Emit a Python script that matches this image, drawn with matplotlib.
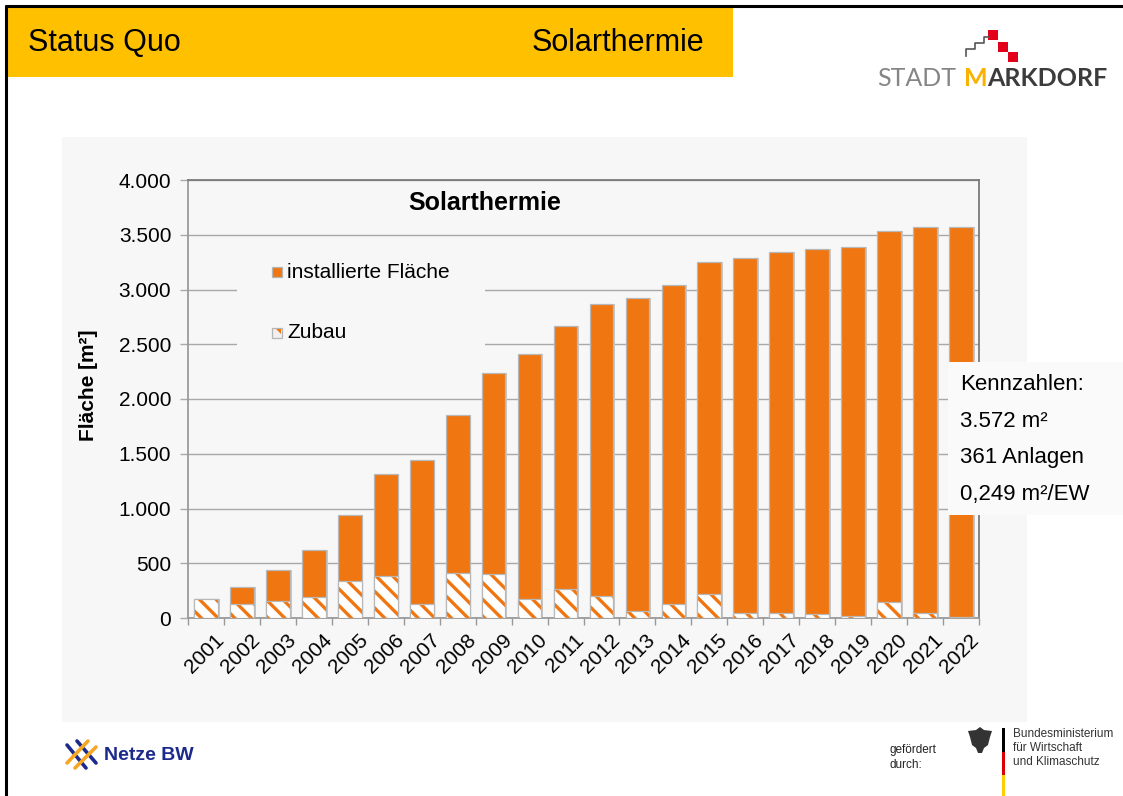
import matplotlib
matplotlib.use('Agg')
import matplotlib.pyplot as plt
import matplotlib.patches as mpatches
import matplotlib.transforms as mtransforms
from matplotlib.ticker import FuncFormatter, FixedLocator
import numpy as np

# ---------------- data ----------------
years = [str(y) for y in range(2001, 2023)]
installiert = [170, 285, 435, 620, 945, 1315, 1440, 1850, 2240, 2410, 2670,
               2870, 2920, 3040, 3255, 3290, 3340, 3370, 3390, 3530, 3570, 3572]
zubau = [170, 125, 155, 190, 340, 385, 130, 415, 405, 170, 265,
         200, 60, 125, 215, 45, 50, 40, 20, 150, 45, 5]
yticks = list(range(0, 4001, 500))
kennzahlen = ["Kennzahlen:", "3.572 m²", "361 Anlagen", "0,249 m²/EW"]
legend_labels = ["installierte Fläche", "Zubau"]
chart_title = "Solarthermie"
y_label = "Fläche [m²]"

ORANGE = '#F07612'
PANEL = '#f7f7f7'

plt.rcParams['font.family'] = ['Liberation Sans', 'DejaVu Sans']
plt.rcParams['hatch.linewidth'] = 2.4

W, H = 1123, 796
fig = plt.figure(figsize=(W / 100, H / 100), dpi=100)
fig.patch.set_facecolor('white')

# background axes (pixel coordinates)
bg = fig.add_axes([0, 0, 1, 1], zorder=0)
bg.set_xlim(0, W); bg.set_ylim(H, 0); bg.axis('off')
bg.add_patch(mpatches.Rectangle((62, 137), 965, 585, fc=PANEL, ec='none'))
bg.add_patch(mpatches.Rectangle((7, 7), 726, 70, fc='#FFC000', ec='none'))
bg.plot([5.5, 5.5], [5, H], color='black', lw=2.2, solid_capstyle='butt')
bg.plot([4.5, W], [6, 6], color='black', lw=2.2, solid_capstyle='butt')
bg.text(28, 43, "Status Quo", fontsize=22, va='center', ha='left')
bg.text(532, 43, "Solarthermie", fontsize=22, va='center', ha='left')

# ---------------- chart ----------------
ax = fig.add_axes([188 / W, 1 - 618 / H, 791 / W, 438 / H], zorder=1)
ax.set_facecolor('none')
x = np.arange(len(years))
bw = 0.66
# subtle 3D shadow on the right side of each bar
ax.bar(x + 0.05, installiert, width=bw, color='#c9c9c9', linewidth=0, zorder=2)
ax.bar(x, installiert, width=bw, color=ORANGE, edgecolor='#b8b8b8', linewidth=0.9, zorder=3)
ax.bar(x, zubau, width=bw, color='white', edgecolor=ORANGE, hatch='\\\\', linewidth=0, zorder=4)
ax.bar(x, zubau, width=bw, facecolor='none', edgecolor='#b8b8b8', linewidth=0.9, zorder=5)

ax.set_xlim(-0.5, len(years) - 0.5)
ax.set_ylim(0, 4000)
ax.yaxis.set_major_locator(FixedLocator(yticks))
ax.yaxis.set_major_formatter(FuncFormatter(lambda v, p: f"{int(v):,}".replace(',', '.')))
ax.yaxis.grid(True, color='#a8a8a8', lw=1.0)
ax.set_axisbelow(True)

ax.set_xticks(x)
ax.set_xticklabels(years, rotation=45, ha='right', va='center', rotation_mode='anchor', fontsize=15)
ax.set_xticks(np.arange(-0.5, len(years), 1), minor=True)
ax.tick_params(axis='x', which='major', length=0, pad=14)
ax.tick_params(axis='x', which='minor', length=5, color='#999999', width=1)
ax.tick_params(axis='y', length=6, color='#aaaaaa', width=1, labelsize=15, pad=6)
offset = mtransforms.ScaledTranslation(15 / 100, 0, fig.dpi_scale_trans)
for lab in ax.get_xticklabels():
    lab.set_transform(lab.get_transform() + offset)

for s in ['top', 'right']:
    ax.spines[s].set_color('#7a7a7a')
    ax.spines[s].set_linewidth(1.3)
for s in ['left', 'bottom']:
    ax.spines[s].set_color('#9a9a9a')
    ax.spines[s].set_linewidth(1.3)

# ---------------- foreground overlay ----------------
fg = fig.add_axes([0, 0, 1, 1], zorder=2)
fg.set_xlim(0, W); fg.set_ylim(H, 0); fg.axis('off')
fg.patch.set_alpha(0)

fg.text(88, 385, y_label, rotation=90, fontsize=15, fontweight='bold', ha='center', va='center')
fg.text(485, 203, chart_title, fontsize=18, fontweight='bold', ha='center', va='center')

# legend
fg.add_patch(mpatches.Rectangle((237, 254), 248, 97, fc=PANEL, ec='none'))
fg.add_patch(mpatches.Rectangle((272, 267), 10, 10, fc=ORANGE, ec='#b5b5b5', lw=0.9))
fg.add_patch(mpatches.Rectangle((272, 328), 10, 10, fc='#f0f0f0', ec='#b5b5b5', lw=0.9))
fg.add_patch(mpatches.Polygon([[276, 329], [281, 329], [281, 334]], closed=True, fc=ORANGE, ec='none'))
fg.text(287, 272, legend_labels[0], fontsize=15, ha='left', va='center')
fg.text(287, 332, legend_labels[1], fontsize=15, ha='left', va='center')

# Kennzahlen box
fg.add_patch(mpatches.Rectangle((948, 362), 175, 153, fc='#fafafa', ec='none'))
for i, t in enumerate(kennzahlen):
    fg.text(960, 385 + i * 36.5, t, fontsize=16, ha='left', va='center')

# Stadt Markdorf logo
fg.plot([966, 966, 975, 975, 984, 984, 989], [56, 49, 49, 43, 43, 37, 37], color='#555555', lw=1.2)
for (sx, sy) in [(988, 30), (998, 42), (1008, 52)]:
    fg.add_patch(mpatches.Rectangle((sx, sy), 10, 10, fc='#e3001b', ec='none'))
fg.text(877, 78, "STADT", fontsize=18, color='#858585', family=['Lato', 'DejaVu Sans'],
        fontweight='normal', ha='left', va='center')
fg.text(964, 78, "M", fontsize=18, color='#F9B200', family=['Lato', 'DejaVu Sans'],
        fontweight='bold', ha='left', va='center')
fg.text(987.5, 78, "ARKDORF", fontsize=18, color='#3c3c3c', family=['Lato', 'DejaVu Sans'],
        fontweight='bold', ha='left', va='center')

# Netze BW logo
for (x0, y0, x1, y1, c) in [(67, 745, 86, 768, '#1c2a8c'), (77, 741, 96, 763, '#1c2a8c'),
                            (67, 763, 88, 741, '#f5a623'), (75, 768, 96, 747, '#f5a623')]:
    fg.plot([x0, x1], [y0, y1], color=c, lw=2.6, solid_capstyle='round')
fg.text(104, 755, "Netze BW", fontsize=14, fontweight='bold', color='#1c2a8c', ha='left', va='center')

# BMWK logo
fg.text(889, 750, "gefördert", fontsize=8.5, color='#222222', ha='left', va='center')
fg.text(889, 765, "durch:", fontsize=8.5, color='#222222', ha='left', va='center')
eagle = [[980, 727], [984, 730], [992, 731], [990, 737], [988, 745], [984, 748], [982, 753],
         [978, 753], [976, 748], [972, 745], [970, 737], [968, 731], [976, 730]]
fg.add_patch(mpatches.Polygon(eagle, closed=True, fc='#333333', ec='none'))
fg.add_patch(mpatches.Rectangle((1002, 728), 3, 24, fc='black', ec='none'))
fg.add_patch(mpatches.Rectangle((1002, 752), 3, 23, fc='#dd0000', ec='none'))
fg.add_patch(mpatches.Rectangle((1002, 775), 3, 21, fc='#ffce00', ec='none'))
for i, t in enumerate(["Bundesministerium", "für Wirtschaft", "und Klimaschutz"]):
    fg.text(1013, 734 + i * 14, t, fontsize=8.5, color='#333333', ha='left', va='center')

fig.savefig('out.png', dpi=100, facecolor='white')
